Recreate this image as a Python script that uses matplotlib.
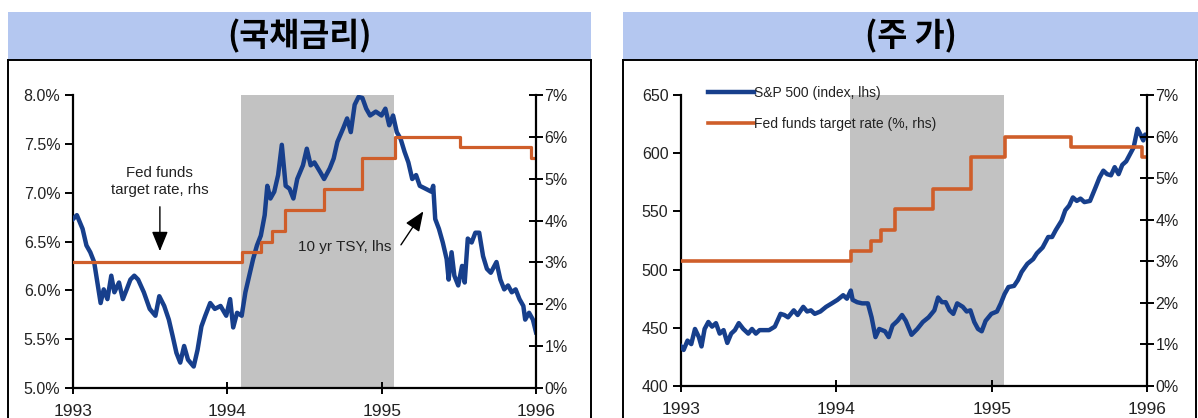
import matplotlib
matplotlib.use("Agg")
import matplotlib.pyplot as plt
from matplotlib.patches import Rectangle
from matplotlib.lines import Line2D
from matplotlib.ticker import FuncFormatter
from matplotlib import font_manager

# ---------------- data ----------------
tsy_years = [1993.000, 1993.025, 1993.062, 1993.087, 1993.112, 1993.137, 1993.161, 1993.179,
             1993.199, 1993.223, 1993.248, 1993.268, 1993.298, 1993.323, 1993.348, 1993.372,
             1993.397, 1993.422, 1993.459, 1993.497, 1993.534, 1993.559, 1993.591, 1993.621,
             1993.646, 1993.670, 1993.695, 1993.720, 1993.745, 1993.782, 1993.807, 1993.832,
             1993.857, 1993.889, 1993.919, 1993.956, 1993.993, 1994.018, 1994.038, 1994.063,
             1994.093, 1994.117, 1994.142, 1994.167, 1994.192, 1994.217, 1994.242, 1994.259,
             1994.279, 1994.304, 1994.329, 1994.353, 1994.378, 1994.403, 1994.428, 1994.453,
             1994.490, 1994.515, 1994.540, 1994.564, 1994.602, 1994.627, 1994.664, 1994.689,
             1994.713, 1994.751, 1994.776, 1994.800, 1994.825, 1994.850, 1994.875, 1994.900,
             1994.925, 1994.962, 1994.999, 1995.024, 1995.049, 1995.074, 1995.098, 1995.123,
             1995.148, 1995.173, 1995.198, 1995.223, 1995.247, 1995.285, 1995.322, 1995.334,
             1995.347, 1995.371, 1995.396, 1995.421, 1995.434, 1995.453, 1995.471, 1995.496,
             1995.521, 1995.538, 1995.558, 1995.583, 1995.607, 1995.632, 1995.657, 1995.682,
             1995.707, 1995.744, 1995.769, 1995.794, 1995.819, 1995.843, 1995.868, 1995.893,
             1995.918, 1995.930, 1995.955, 1995.980, 1996.000]
tsy_values = [6.73, 6.77, 6.63, 6.46, 6.39, 6.29, 6.05, 5.87,
              6.01, 5.91, 6.15, 5.98, 6.08, 5.91, 6.01, 6.11,
              6.15, 6.11, 5.98, 5.81, 5.74, 5.94, 5.84, 5.70,
              5.53, 5.36, 5.26, 5.43, 5.29, 5.22, 5.39, 5.63,
              5.74, 5.87, 5.81, 5.84, 5.74, 5.91, 5.62, 5.77,
              5.74, 5.98, 6.15, 6.32, 6.46, 6.56, 6.77, 7.07,
              6.94, 7.01, 7.18, 7.49, 7.07, 7.04, 6.94, 7.14,
              7.28, 7.45, 7.28, 7.31, 7.21, 7.14, 7.25, 7.35,
              7.52, 7.66, 7.76, 7.62, 7.90, 7.98, 7.97, 7.86,
              7.79, 7.83, 7.79, 7.86, 7.69, 7.79, 7.62, 7.55,
              7.42, 7.31, 7.14, 7.18, 7.07, 7.04, 7.01, 7.07,
              6.73, 6.63, 6.49, 6.32, 6.11, 6.39, 6.15, 6.05,
              6.25, 6.08, 6.53, 6.49, 6.59, 6.59, 6.35, 6.22,
              6.18, 6.29, 6.11, 6.01, 6.05, 5.98, 6.01, 5.91,
              5.84, 5.70, 5.77, 5.70, 5.57]

spx_years = [1993.000, 1993.017, 1993.042, 1993.066, 1993.090, 1993.115, 1993.132, 1993.152,
             1993.176, 1993.200, 1993.225, 1993.249, 1993.274, 1993.298, 1993.323, 1993.347,
             1993.372, 1993.401, 1993.433, 1993.457, 1993.482, 1993.506, 1993.531, 1993.567,
             1993.604, 1993.641, 1993.665, 1993.689, 1993.726, 1993.751, 1993.787, 1993.812,
             1993.836, 1993.861, 1993.897, 1993.934, 1993.971, 1994.007, 1994.044, 1994.068,
             1994.093, 1994.105, 1994.134, 1994.166, 1994.203, 1994.227, 1994.252, 1994.276,
             1994.313, 1994.337, 1994.362, 1994.394, 1994.423, 1994.447, 1994.484, 1994.521,
             1994.557, 1994.594, 1994.631, 1994.655, 1994.680, 1994.704, 1994.729, 1994.753,
             1994.778, 1994.814, 1994.839, 1994.863, 1994.888, 1994.912, 1994.936, 1994.961,
             1994.998, 1995.034, 1995.059, 1995.083, 1995.108, 1995.144, 1995.169, 1995.193,
             1995.230, 1995.267, 1995.291, 1995.328, 1995.364, 1995.389, 1995.413, 1995.450,
             1995.474, 1995.499, 1995.523, 1995.548, 1995.572, 1995.597, 1995.633, 1995.670,
             1995.694, 1995.719, 1995.743, 1995.768, 1995.792, 1995.817, 1995.841, 1995.866,
             1995.890, 1995.914, 1995.939, 1995.958, 1995.976, 1995.988, 1996.000]
spx_values = [434, 431, 439, 436, 449, 442, 434, 449,
              455, 451, 454, 445, 448, 437, 445, 448,
              454, 449, 445, 449, 445, 448, 448, 448,
              451, 462, 461, 459, 465, 461, 468, 464,
              465, 462, 464, 468, 471, 474, 478, 475,
              482, 474, 472, 471, 471, 459, 442, 449,
              447, 442, 452, 456, 461, 456, 444, 449,
              455, 459, 465, 476, 472, 472, 465, 462,
              471, 468, 464, 465, 455, 449, 447, 456,
              462, 464, 471, 479, 485, 486, 491, 498,
              505, 509, 514, 519, 528, 528, 534, 542,
              551, 555, 562, 559, 561, 558, 559, 571,
              579, 585, 582, 581, 588, 582, 590, 593,
              599, 605, 621, 616, 611, 616, 615]

fed_dates = [1993.000, 1994.093, 1994.220, 1994.290, 1994.375, 1994.625, 1994.870,
             1995.085, 1995.510, 1995.965, 1996.000]
fed_rates = [3.00, 3.25, 3.50, 3.75, 4.25, 4.75, 5.50, 6.00, 5.75, 5.50, 5.50]

shade_start, shade_end = 1994.09, 1995.08
year_ticks = [1993, 1994, 1995, 1996]
year_labels = ["1993", "1994", "1995", "1996"]
tsy_ticks = [5.0, 5.5, 6.0, 6.5, 7.0, 7.5, 8.0]
spx_ticks = [400, 450, 500, 550, 600, 650]
rhs_ticks = [0, 1, 2, 3, 4, 5, 6, 7]

titles = ["(국채금리)", "(주 가)"]
legend_labels = ["S&P 500 (index, lhs)", "Fed funds target rate (%, rhs)"]

# ---------------- style ----------------
names = {f.name for f in font_manager.fontManager.ttflist}
NARROW = ["Liberation Sans Narrow", "Liberation Sans", "DejaVu Sans"]
NARROW = [n for n in NARROW if n in names] or ["DejaVu Sans"]
KR = ["Noto Sans CJK KR", "DejaVu Sans"]

BLUE = "#173f8c"
ORANGE = "#cf5e2a"
SHADE = "#c2c2c2"
HEADER = "#b4c7f0"

W, H = 1198, 418
fig = plt.figure(figsize=(W / 100, H / 100), dpi=100)


def fx(px):
    return px / W


def fy(py):
    return 1 - py / H


# header bands and frames
for (x0, x1), title in zip([(8, 591), (623, 1198)], titles):
    fig.patches.append(Rectangle((fx(x0), fy(60)), fx(x1 - x0), fy(12) - fy(60),
                                 transform=fig.transFigure, facecolor=HEADER,
                                 edgecolor="none", zorder=0))
    fig.text(fx((x0 + x1) / 2), fy(36), title, ha="center", va="center",
             fontsize=23.5, fontweight="bold", family=KR)
    x1b = min(x1, 1196)
    for line in ([fx(x0), fx(x1)], [fy(60), fy(60)]), \
                ([fx(x0), fx(x0)], [0, fy(60)]), \
                ([fx(x1b), fx(x1b)], [0, fy(60)]):
        fig.lines.append(Line2D(line[0], line[1], transform=fig.transFigure,
                                color="black", lw=1.4))


def style_axes(ax, ax2):
    for a in (ax, ax2):
        a.spines["top"].set_visible(False)
        a.patch.set_visible(False)
    ax.spines["right"].set_visible(False)
    ax2.spines["left"].set_visible(False)
    ax2.spines["bottom"].set_visible(False)
    for s in ("left", "bottom"):
        ax.spines[s].set_linewidth(1.6)
    ax2.spines["right"].set_linewidth(1.6)
    ax.set_xlim(1993, 1996)
    ax.set_xticks(year_ticks)
    ax.set_xticklabels(year_labels)
    ax.tick_params(axis="x", direction="inout", length=9, width=1.4, pad=7, labelsize=12.5)
    ax.tick_params(axis="y", direction="out", length=6, width=1.4, pad=3, labelsize=11.5)
    ax2.set_ylim(0, 7)
    ax2.set_yticks(rhs_ticks)
    ax2.yaxis.set_major_formatter(FuncFormatter(lambda v, p: f"{v:.0f}%"))
    ax2.tick_params(axis="y", direction="inout", length=10, width=1.4, pad=1, labelsize=11.5)
    for lab in ax.get_xticklabels() + ax.get_yticklabels() + ax2.get_yticklabels():
        lab.set_family(NARROW)
        lab.set_color("#222222")
    ax.axvspan(shade_start, shade_end, color=SHADE, lw=0, zorder=0)


ARROW = dict(arrowstyle="-|>,head_width=0.45,head_length=1.1", color="black",
             lw=1.0, mutation_scale=11, shrinkA=0, shrinkB=0)

# ---------------- left: treasury ----------------
axL = fig.add_axes([fx(73), fy(388), fx(536 - 73), fy(95) - fy(388)])
axL2 = axL.twinx()
axL.set_zorder(1)
axL2.set_zorder(2)
axL.set_ylim(5.0, 8.0)
axL.set_yticks(tsy_ticks)
axL.yaxis.set_major_formatter(FuncFormatter(lambda v, p: f"{v:.1f}%"))
style_axes(axL, axL2)
axL.plot(tsy_years, tsy_values, color=BLUE, lw=3.2, solid_joinstyle="round", zorder=3)
axL2.step(fed_dates, fed_rates, where="post", color=ORANGE, lw=2.3, zorder=2)

axL2.text(1993.563, 4.93, "Fed funds\ntarget rate, rhs", ha="center", va="center",
          fontsize=10.8, family=NARROW, linespacing=1.3, color="#222222")
axL2.annotate("", xy=(1993.563, 3.27), xytext=(1993.563, 4.33), arrowprops=ARROW)
axL2.text(1994.76, 3.37, "10 yr TSY, lhs", ha="center", va="center",
          fontsize=11, family=NARROW, color="#222222")
axL2.annotate("", xy=(1995.27, 4.22), xytext=(1995.125, 3.42), arrowprops=ARROW)

# ---------------- right: S&P 500 ----------------
axR = fig.add_axes([fx(681), fy(386), fx(1147 - 681), fy(95) - fy(386)])
axR2 = axR.twinx()
axR.set_zorder(1)
axR2.set_zorder(2)
axR.set_ylim(400, 650)
axR.set_yticks(spx_ticks)
style_axes(axR, axR2)
h1, = axR.plot(spx_years, spx_values, color=BLUE, lw=3.2, solid_joinstyle="round", zorder=3)
h2, = axR2.step(fed_dates, fed_rates, where="post", color=ORANGE, lw=2.6, zorder=2)
leg = axR2.legend([h1, h2], legend_labels, loc="upper left",
                  bbox_to_anchor=(0.058, 1.03), frameon=False, handlelength=3.3,
                  handletextpad=0.0, labelspacing=1.2, borderpad=0, borderaxespad=0,
                  prop=dict(family=NARROW, size=10))
for t in leg.get_texts():
    t.set_color("#222222")

fig.savefig("out.png", dpi=100)
